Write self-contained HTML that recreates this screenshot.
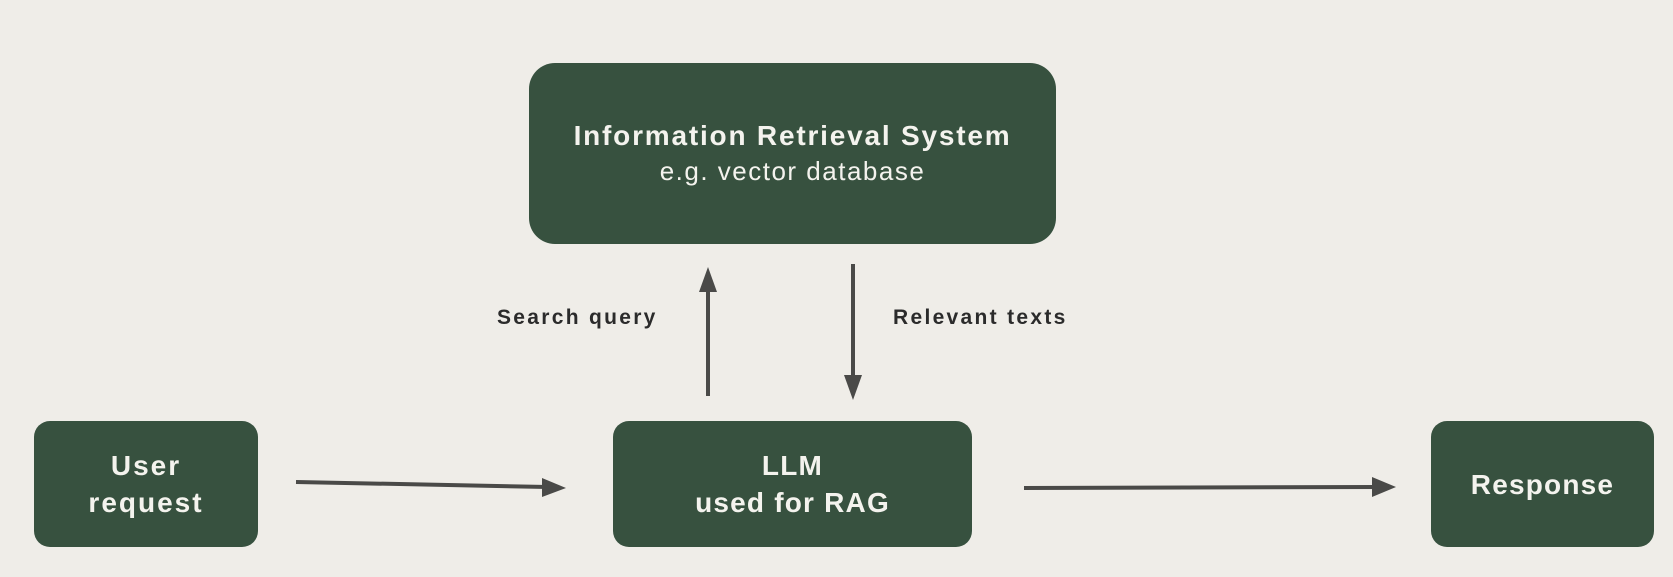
<!DOCTYPE html>
<html><head><style>
body{margin:0;width:1673px;height:577px;background:#efede8;position:relative;overflow:hidden;font-family:"Liberation Sans",sans-serif}
.b{position:absolute;background:#37513f;color:#f4f3ee;display:flex;flex-direction:column;align-items:center;justify-content:center;text-align:center;font-weight:bold;font-size:28px;line-height:37px;letter-spacing:1.2px}
.l{position:absolute;font-weight:bold;font-size:21px;color:#2b2b2b;letter-spacing:2.3px}
</style></head><body>
<div class="b" style="left:529px;top:63px;width:527px;height:181px;border-radius:26px;justify-content:flex-start">
<div style="margin-top:54px;letter-spacing:1.8px">Information Retrieval System</div>
<div style="font-weight:normal;font-size:26px;line-height:34px;letter-spacing:1.5px">e.g. vector database</div></div>
<div class="b" style="left:34px;top:421px;width:224px;height:126px;border-radius:16px;letter-spacing:2px">User<br>request</div>
<div class="b" style="left:613px;top:421px;width:359px;height:126px;border-radius:16px">LLM<br>used for RAG</div>
<div class="b" style="left:1431px;top:421px;width:223px;height:126px;border-radius:16px">Response</div>
<div class="l" style="left:497px;top:306px">Search query</div>
<div class="l" style="left:893px;top:306px">Relevant texts</div>
<svg width="1673" height="577" style="position:absolute;left:0;top:0">
<g stroke="#4a4a48" stroke-width="4" fill="#4a4a48">
<line x1="708" y1="396" x2="708" y2="285"/>
<polygon points="708,267 699,292 717,292" stroke="none"/>
<line x1="853" y1="264" x2="853" y2="382"/>
<polygon points="853,400 844,375 862,375" stroke="none"/>
<line x1="296" y1="482" x2="548" y2="487"/>
<polygon points="566,488 542,478 542,497" stroke="none"/>
<line x1="1024" y1="488" x2="1378" y2="487"/>
<polygon points="1396,487 1372,477 1372,497" stroke="none"/>
</g></svg>
</body></html>
